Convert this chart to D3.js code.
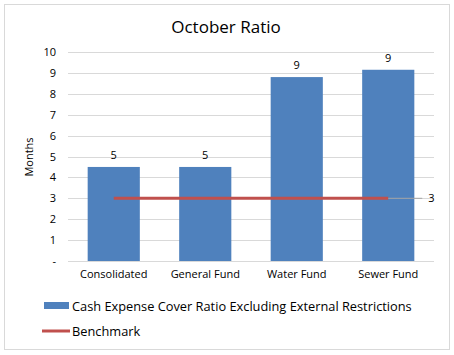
<!DOCTYPE html>
<html><head><meta charset="utf-8">
<script src="https://cdn.jsdelivr.net/npm/d3@7/dist/d3.min.js"></script>
<style>body{margin:0;background:#fff}svg{display:block}text{font-family:"Open Sans","Liberation Sans",sans-serif;fill:#000}</style>
</head><body>
<svg id="c" width="454" height="355"></svg>
<script>
const categories = ["Consolidated","General Fund","Water Fund","Sewer Fund"];
const ratioValues = [4.5, 4.5, 8.8, 9.15];
const benchmarkValues = [3, 3, 3, 3];
const yTicks = [0,1,2,3,4,5,6,7,8,9,10];
const title = "October Ratio";
const yTitle = "Months";
const seriesNames = ["Cash Expense Cover Ratio Excluding External Restrictions","Benchmark"];

const svg = d3.select("#c");
svg.append("rect").attr("x",4.5).attr("y",4.5).attr("width",445).attr("height",345)
  .attr("fill","#fff").attr("stroke","#d9d9d9");

const x = d3.scaleBand().domain(categories).range([68,434]).paddingInner(0.43).paddingOuter(0.215);
const y = d3.scaleLinear().domain([0,10]).range([261,52]);

svg.append("text").attr("x",226).attr("y",33).attr("text-anchor","middle")
  .style("font-size","17px").text(title);

const g = svg.append("g");
g.selectAll("line.grid").data(yTicks).join("line")
  .attr("x1",68).attr("x2",434).attr("y1",d=>Math.round(y(d))+0.5).attr("y2",d=>Math.round(y(d))+0.5)
  .attr("stroke","#d9d9d9");

const yAxis = d3.axisLeft(y).tickValues(yTicks).tickSize(0).tickPadding(12)
  .tickFormat(d=> d===0 ? "-" : d);
const ya = svg.append("g").attr("transform","translate(68,0)").call(yAxis);
ya.select(".domain").remove();
ya.selectAll("text").style("font-size","11px").attr("fill","#000").style("font-family","'Open Sans',sans-serif");

svg.append("text").attr("transform","translate(33,157) rotate(-90)").attr("text-anchor","middle")
  .style("font-size","11px").text(yTitle);

svg.selectAll("rect.bar").data(ratioValues).join("rect").attr("class","bar")
  .attr("x",(d,i)=>x(categories[i])).attr("width",x.bandwidth())
  .attr("y",d=>y(d)).attr("height",d=>y(0)-y(d)).attr("fill","#4f81bd");

svg.selectAll("text.lbl").data(ratioValues).join("text").attr("class","lbl")
  .attr("x",(d,i)=>x(categories[i])+x.bandwidth()/2).attr("y",d=>y(d)-8)
  .attr("text-anchor","middle").style("font-size","11px").text(d=>d3.format(".0f")(d));

const xAxis = d3.axisBottom(x).tickSize(0).tickPadding(9);
const xa = svg.append("g").attr("transform","translate(0,261)").call(xAxis);
xa.select(".domain").remove();
xa.selectAll("text").style("font-size","11px").attr("fill","#000").style("font-family","'Open Sans',sans-serif");

const cx = (d,i)=>x(categories[i])+x.bandwidth()/2;
const line = d3.line().x((d,i)=>cx(d,i)).y(d=>y(d));
svg.append("path").datum(benchmarkValues).attr("d",line).attr("fill","none")
  .attr("stroke","#c0504d").attr("stroke-width",3);

const lastI = benchmarkValues.length-1;
svg.append("line").attr("x1",cx(0,lastI)).attr("x2",cx(0,lastI)+34)
  .attr("y1",y(benchmarkValues[lastI])).attr("y2",y(benchmarkValues[lastI]))
  .attr("stroke","#a6a6a6").attr("stroke-width",1);
svg.append("text").attr("x",cx(0,lastI)+40).attr("y",y(benchmarkValues[lastI])+4)
  .style("font-size","11px").text(benchmarkValues[lastI]);

// legend
svg.append("rect").attr("x",44).attr("y",302).attr("width",25).attr("height",7).attr("fill","#4f81bd");
svg.append("text").attr("x",72).attr("y",311).style("font-size","12.8px").text(seriesNames[0]);
svg.append("line").attr("x1",42).attr("x2",70).attr("y1",331).attr("y2",331).attr("stroke","#c0504d").attr("stroke-width",3);
svg.append("text").attr("x",72).attr("y",336).style("font-size","12.8px").text(seriesNames[1]);
</script>
</body></html>
